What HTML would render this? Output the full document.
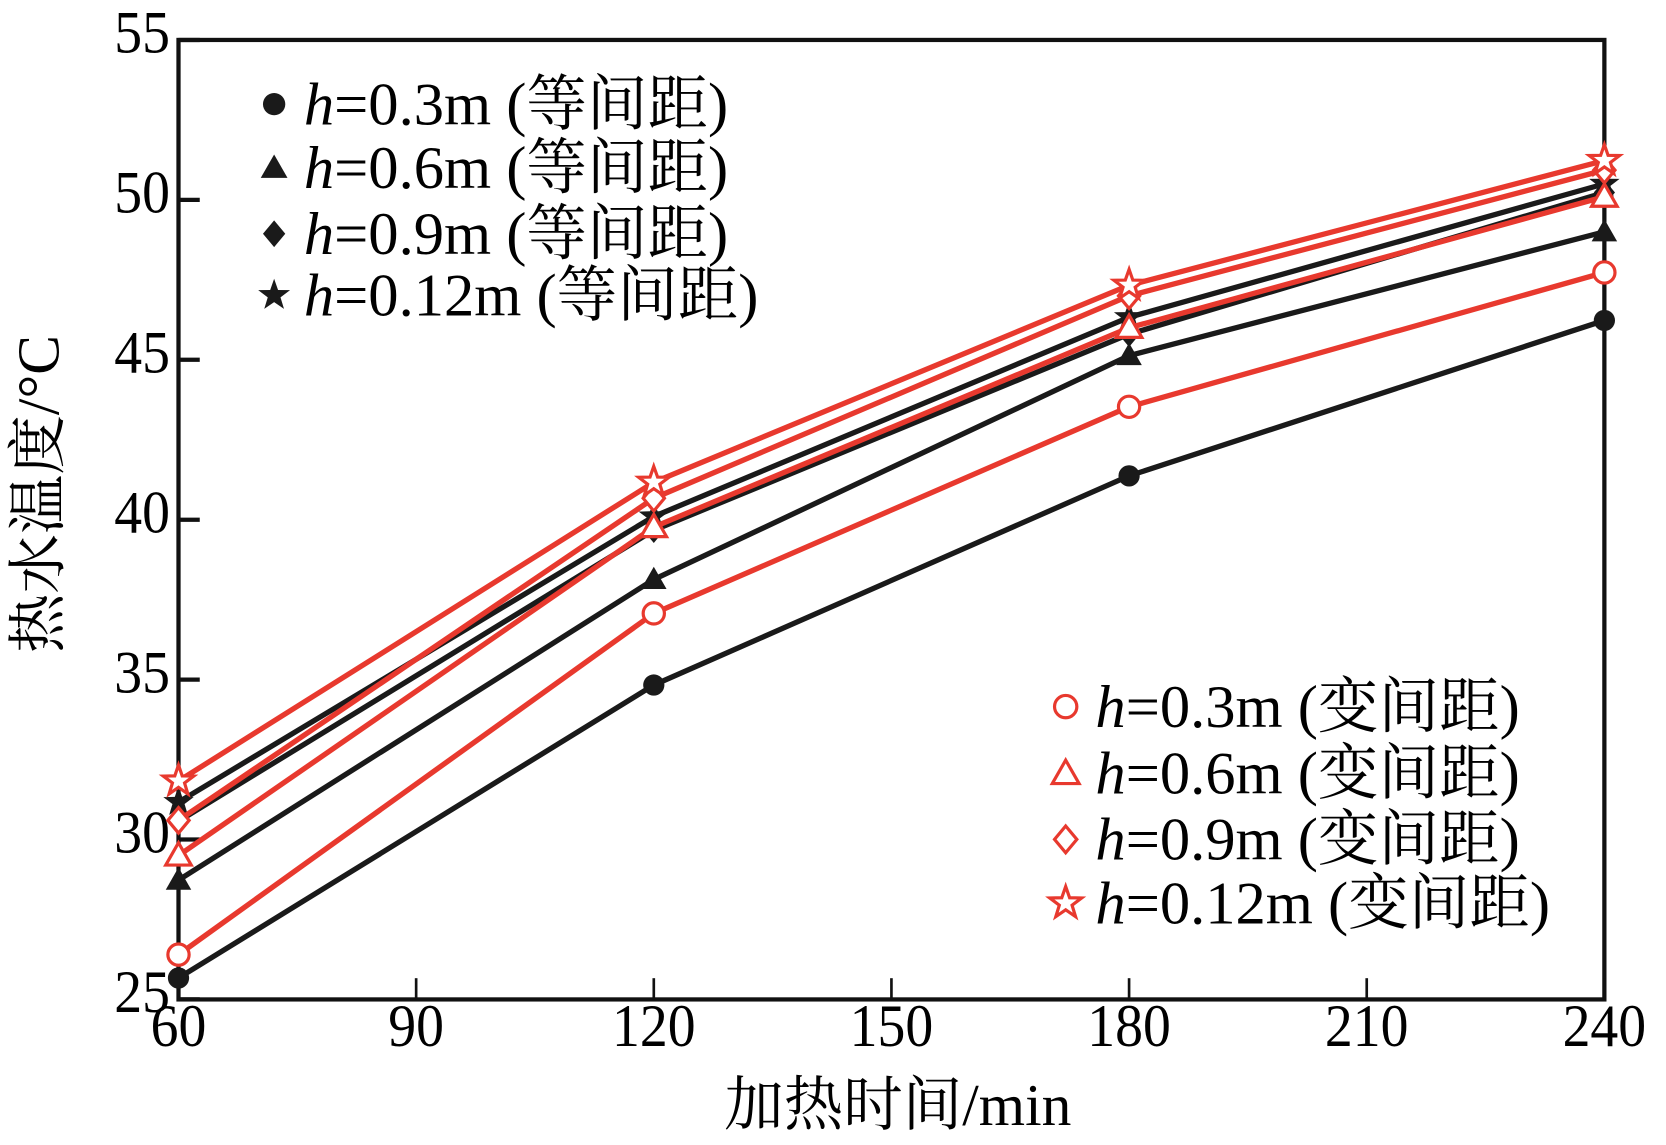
<!DOCTYPE html>
<html><head><meta charset="utf-8"><style>
html,body{margin:0;padding:0;background:#fff}
svg{display:block}
text{font-family:"Liberation Serif","Noto Serif CJK SC",serif}
</style></head><body>
<svg id="chart" width="1666" height="1145" viewBox="0 0 1568 1077.6" preserveAspectRatio="none" xmlns="http://www.w3.org/2000/svg">
<g id="axes"></g><g id="series"></g><g id="legend"></g>
</svg>
<script>
const xCats=[60,120,180,240];
const xTicks=[60,90,120,150,180,210,240];
const yTicks=[25,30,35,40,45,50,55];
const eq03=[25.67,34.83,41.37,46.23];
const eq06=[28.73,38.13,45.13,49.0];
const eq09=[30.57,39.67,45.8,50.23];
const eq12=[31.17,40.1,46.33,50.5];
const va03=[26.4,37.07,43.53,47.73];
const va06=[29.5,39.77,46.0,50.1];
const va09=[30.6,40.67,47.0,50.93];
const va12=[31.83,41.17,47.33,51.23];
const labels=["h=0.3m","h=0.6m","h=0.9m","h=0.12m"];

const NS="http://www.w3.org/2000/svg";
const L=168,R=1510,T=37.6,U=30.1;
const X=v=>L+(v-60)/180*(R-L);
const Y=v=>T+(55-v)*U;
const B=Y(25);
function mk(tag,attrs,parent){const e=document.createElementNS(NS,tag);for(const k in attrs)e.setAttribute(k,attrs[k]);parent.appendChild(e);return e;}
const axes=document.getElementById('axes'),ser=document.getElementById('series'),leg=document.getElementById('legend');

const frame=mk('rect',{x:L,y:T,width:R-L,height:B-T,fill:'none',stroke:'#111','stroke-width':4},axes);


xTicks.forEach(v=>{
  const t=mk('line',{x1:X(v),x2:X(v),y1:B,y2:B-20,stroke:'#111','stroke-width':2.5},axes);
  
  
  const s=mk('text',{x:X(v),y:B+44,'font-size':57,'text-anchor':'middle',transform:`translate(${X(v)},0) scale(0.92,1) translate(${-X(v)},0)`},axes);
  s.textContent=v;
  
  
});
yTicks.forEach(v=>{
  const t=mk('line',{x1:L,x2:L+20,y1:Y(v),y2:Y(v),stroke:'#111','stroke-width':4},axes);
  
  
  const s=mk('text',{x:L-8,y:Y(v)+12,'font-size':57,'text-anchor':'end',transform:`translate(${L-8},0) scale(0.92,1) translate(${-(L-8)},0)`},axes);
  s.textContent=v;
  
  
});
const xt=mk('text',{x:845,y:1059,'font-size':56,'text-anchor':'middle'},axes);
xt.textContent='加热时间/min';


const yt=mk('text',{x:0,y:0,'font-size':56,'text-anchor':'middle',transform:'translate(55,465) rotate(-90)'},axes);
yt.textContent='热水温度/°C';



function marker(type,cx,cy,color,filled,parent,s){
  s=s||1;
  const fill=filled?color:'#fff',sw=filled?0:3;
  let e;
  if(type==='circle') e=mk('circle',{cx,cy,r:10*s,fill,stroke:color,'stroke-width':sw},parent);
  else if(type==='tri') e=mk('polygon',{points:`${cx},${cy-12*s} ${cx+12*s},${cy+9*s} ${cx-12*s},${cy+9*s}`,fill,stroke:color,'stroke-width':sw},parent);
  else if(type==='dia') e=mk('polygon',{points:`${cx},${cy-12*s} ${cx+10*s},${cy} ${cx},${cy+12*s} ${cx-10*s},${cy}`,fill,stroke:color,'stroke-width':sw},parent);
  else {let p=[];for(let i=0;i<10;i++){const r=i%2?6*s:15*s,a=-Math.PI/2+i*Math.PI/5;p.push((cx+r*Math.cos(a)).toFixed(1)+','+(cy+r*Math.sin(a)).toFixed(1));}
    e=mk('polygon',{points:p.join(' '),fill,stroke:color,'stroke-width':sw},parent);}
  return e;
}
const blk='#1a1a1a',red='#e8392e';
const types=['circle','tri','dia','star'];
const seriesList=[
 [eq03,blk,true,'circle','eq-h03'],[eq06,blk,true,'tri','eq-h06'],[eq09,blk,true,'dia','eq-h09'],[eq12,blk,true,'star','eq-h012'],
 [va03,red,false,'circle','var-h03'],[va06,red,false,'tri','var-h06'],[va09,red,false,'dia','var-h09'],[va12,red,false,'star','var-h012']];
seriesList.forEach(([vals,c,f,t,name])=>{
  const g=mk('g',{},ser);
  
  
  const ln=mk('polyline',{points:vals.map((v,i)=>X(xCats[i])+','+Y(v)).join(' '),fill:'none',stroke:c,'stroke-width':5},g);
  
  
  vals.forEach((v,i)=>{
    const m=marker(t,X(xCats[i]),Y(v),c,f,g);
    
    
  });
});
function legendEntry(mx,my,t,c,f,lab,suffix){
  const g=mk('g',{},leg);
  
  
  marker(t,mx,my,c,f,g,1.05);
  const tx=mk('text',{x:mx+28,y:my+19,'font-size':57},g);
  const h=mk('tspan',{'font-style':'italic'},tx);h.textContent='h';
  const r=mk('tspan',{},tx);r.textContent=lab.slice(1)+' ('+suffix+')';
}
[98,158,220,278].forEach((y,i)=>legendEntry(258,y,types[i],blk,true,labels[i],'等间距'));
[665,728,790,850].forEach((y,i)=>legendEntry(1003,y,types[i],red,false,labels[i],'变间距'));
</script>
</body></html>
